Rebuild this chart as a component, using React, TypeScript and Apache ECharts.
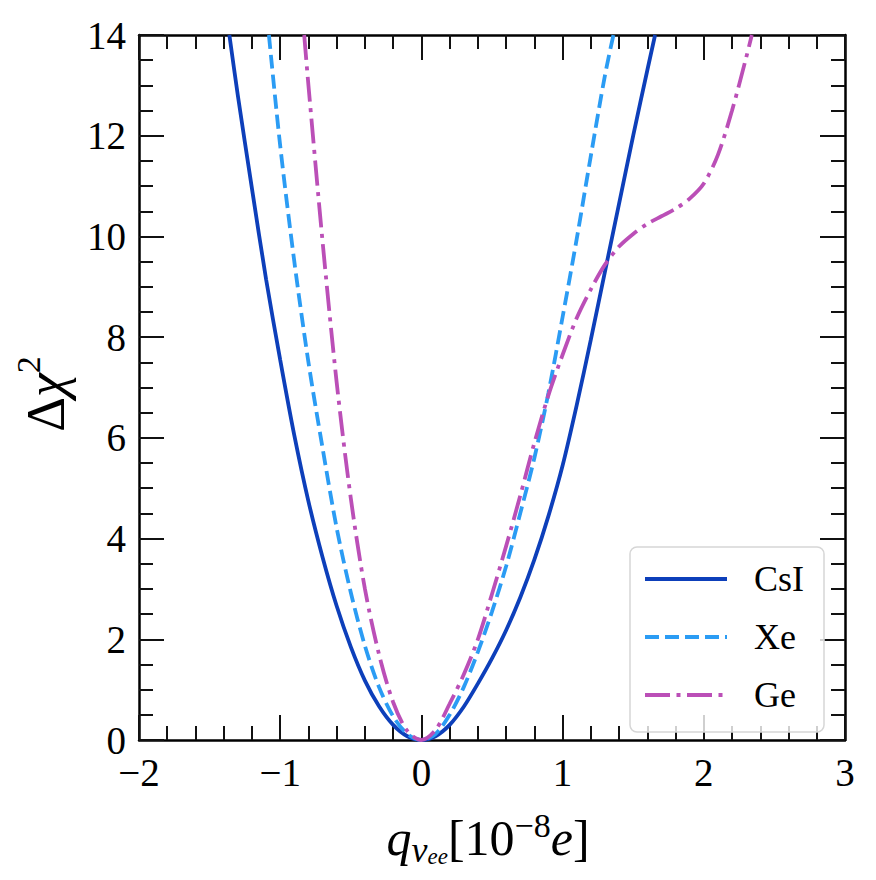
import React, { useEffect, useRef } from "react";
import * as echarts from "echarts";

// ---- data ----
const seriesNames = ["CsI", "Xe", "Ge"];

const csiQ = [-1.36, -1.3, -1.2, -1.1, -1.0, -0.9, -0.8, -0.7, -0.6, -0.5, -0.4, -0.3, -0.2, -0.1, 0, 0.1, 0.2, 0.3, 0.4, 0.5, 0.6, 0.7, 0.8, 0.9, 1.0, 1.1, 1.2, 1.3, 1.4, 1.5, 1.6, 1.655];
const csiChi2 = [14, 12.8, 10.95, 9.15, 7.55, 6.05, 4.74, 3.63, 2.66, 1.85, 1.18, 0.67, 0.3, 0.075, 0, 0.075, 0.3, 0.66, 1.12, 1.62, 2.18, 2.83, 3.58, 4.45, 5.45, 6.65, 7.95, 9.3, 10.65, 12.0, 13.3, 14];

const xeQ = [-1.08, -1.0, -0.9, -0.8, -0.7, -0.6, -0.5, -0.4, -0.3, -0.2, -0.1, 0, 0.1, 0.2, 0.3, 0.4, 0.5, 0.6, 0.7, 0.8, 0.9, 1.0, 1.1, 1.2, 1.3, 1.36];
const xeChi2 = [14, 11.8, 9.5, 7.5, 5.8, 4.21, 2.93, 1.87, 1.05, 0.47, 0.12, 0, 0.12, 0.5, 1.05, 1.75, 2.55, 3.45, 4.5, 5.6, 6.9, 8.4, 9.95, 11.6, 13.2, 14];

const geQ = [-0.83, -0.8, -0.7, -0.6, -0.5, -0.4, -0.3, -0.2, -0.1, 0, 0.1, 0.2, 0.3, 0.4, 0.5, 0.6, 0.7, 0.8, 0.9, 1.0, 1.1, 1.2, 1.3, 1.4, 1.5, 1.6, 1.7, 1.8, 1.9, 2.0, 2.1, 2.2, 2.3, 2.34];
const geChi2 = [14, 13.0, 9.9, 7.1, 4.8, 3.0, 1.7, 0.75, 0.18, 0, 0.2, 0.72, 1.3, 2.0, 2.9, 3.85, 4.85, 5.9, 6.85, 7.65, 8.38, 8.95, 9.44, 9.8, 10.05, 10.25, 10.4, 10.55, 10.75, 11.05, 11.62, 12.5, 13.55, 14];

const xRange = [-2, 3];
const yRange = [0, 14];

const FONT = "'Liberation Serif', 'DejaVu Serif', serif";

export default function App() {
  const ref = useRef<HTMLDivElement>(null);
  useEffect(() => {
    document.body.style.margin = "0";
    if (!ref.current) return;
    const chart = echarts.init(ref.current, undefined, { renderer: "svg" });

    const pairs = (q: number[], c: number[]) => q.map((v, i) => [v, c[i]]);
    const colors = ["#0d3fba", "#2b9cf4", "#bb4fb7"];
    const dashes: any[] = ["solid", [14, 6], [25, 6.5, 4, 6.5]];
    const datasets = [pairs(csiQ, csiChi2), pairs(xeQ, xeChi2), pairs(geQ, geChi2)];

    const axisCommon = {
      axisLine: { show: true, onZero: false, lineStyle: { color: "#000", width: 2.5 } },
      axisTick: { show: true, inside: true, length: 25, lineStyle: { color: "#111", width: 2 } },
      splitLine: { show: false },
    };

    const xAxisBase = (pos: string, showLabel: boolean) => ({
      type: "value",
      position: pos,
      min: xRange[0],
      max: xRange[1],
      interval: 1,
      ...axisCommon,
      minorTick: { show: true, splitNumber: 5, length: 14, lineStyle: { color: "#111", width: 2 } },
      axisLabel: {
        show: showLabel,
        margin: 19,
        fontFamily: FONT,
        fontSize: 39,
        lineHeight: 26,
        color: "#000",
        formatter: (v: number) => String(v).replace("-", "\u2212"),
      },
    });
    const yAxisBase = (pos: string, showLabel: boolean) => ({
      type: "value",
      position: pos,
      min: yRange[0],
      max: yRange[1],
      interval: 2,
      ...axisCommon,
      minorTick: { show: true, splitNumber: 4, length: 14, lineStyle: { color: "#111", width: 2 } },
      axisLabel: {
        show: showLabel,
        margin: 13,
        fontFamily: FONT,
        fontSize: 39,
        lineHeight: 26,
        color: "#000",
      },
    });

    chart.setOption({
      animation: false,
      backgroundColor: "#fff",
      grid: { left: 139, top: 35, width: 706, height: 705, containLabel: false },
      xAxis: [xAxisBase("bottom", true), xAxisBase("top", false)],
      yAxis: [yAxisBase("left", true), yAxisBase("right", false)],
      legend: {
        orient: "vertical",
        left: 630,
        top: 547,
        data: seriesNames,
        itemWidth: 82,
        itemHeight: 30,
        itemGap: 22,
        padding: [14, 20, 19, 13],
        backgroundColor: "rgba(255,255,255,0.8)",
        borderColor: "#d6d6d6",
        borderWidth: 1.5,
        borderRadius: 7,
        itemStyle: { opacity: 0, borderWidth: 0 },
        lineStyle: { width: 4 },
        textStyle: { fontFamily: FONT, fontSize: 36, color: "#000", padding: [0, 0, 0, 22] },
      },
      series: seriesNames.map((name, i) => ({
        name,
        type: "line",
        data: datasets[i],
        xAxisIndex: 0,
        yAxisIndex: 0,
        symbol: "none",
        showSymbol: false,
        smooth: 0.3,
        clip: true,
        lineStyle: { color: colors[i], width: 3.8, type: dashes[i] },
        itemStyle: { color: colors[i] },
        z: 2 + i,
      })),
      graphic: [
        {
          type: "text",
          x: 46,
          y: 394,
          rotation: Math.PI / 2,
          style: {
            text: "{a|\u0394}{b|\u03c7}{s|2}",
            align: "center",
            verticalAlign: "middle",
            rich: {
              a: { fontFamily: FONT, fontSize: 54, lineHeight: 70, fill: "#000" },
              b: { fontFamily: FONT, fontSize: 54, fontStyle: "italic", lineHeight: 70, fill: "#000" },
              s: { fontFamily: FONT, fontSize: 34, lineHeight: 36, verticalAlign: "top", fill: "#000" },
            },
          },
        },
        {
          type: "text",
          x: 488,
          y: 838,
          style: {
            text: "{q|q}{n|\u03bd}{e|ee}{m|[10}{s|\u22128}{i|e}{m|]}",
            align: "center",
            verticalAlign: "middle",
            rich: {
              q: { fontFamily: FONT, fontSize: 50, fontStyle: "italic", lineHeight: 60, fill: "#000" },
              n: { fontFamily: FONT, fontSize: 36, fontStyle: "italic", lineHeight: 44, verticalAlign: "bottom", fill: "#000" },
              e: { fontFamily: FONT, fontSize: 23, fontStyle: "italic", lineHeight: 26, verticalAlign: "bottom", fill: "#000" },
              m: { fontFamily: FONT, fontSize: 50, lineHeight: 60, fill: "#000" },
              s: { fontFamily: FONT, fontSize: 34, lineHeight: 30, verticalAlign: "top", fill: "#000" },
              i: { fontFamily: FONT, fontSize: 50, fontStyle: "italic", lineHeight: 60, fill: "#000" },
            },
          },
        },
      ],
    });

    return () => chart.dispose();
  }, []);

  return <div ref={ref} style={{ width: 876, height: 880 }} />;
}
